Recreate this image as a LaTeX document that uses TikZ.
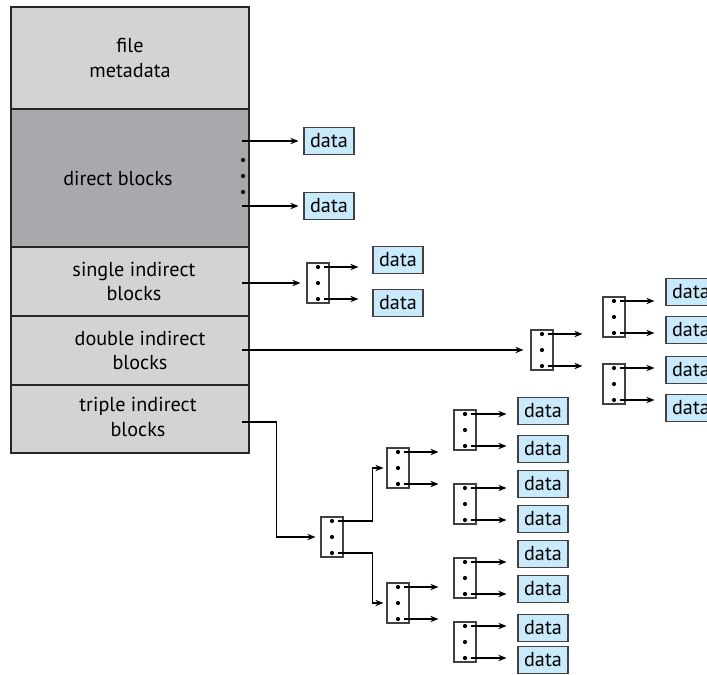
\documentclass[tikz,border=0pt]{standalone}
\usepackage{fontspec}
\setmainfont{PT Sans}
\usetikzlibrary{positioning, arrows.meta}
\definecolor{metagray}{HTML}{D1D3D4}
\definecolor{directgray}{HTML}{A7A9AC}
\definecolor{datablue}{HTML}{C8EAFA}
\definecolor{edgegray}{HTML}{414042}
\tikzstyle{cell} = [
    rectangle,
    draw=black!85,
    line width=0.8pt,
    outer sep=0pt,
    minimum width=4.76cm
]
\tikzstyle{lightcell} = [cell, fill=metagray]
\tikzstyle{darkcell} = [cell, fill=directgray]
\tikzstyle{celltext} = [
    align=center,
    font=\fontsize{11.5}{14.2}\selectfont
]
\tikzstyle{datablock} = [
    rectangle,
    draw=edgegray,
    line width=0.6pt,
    fill=datablue,
    inner sep=0pt,
    minimum width=1cm,
    minimum height=0.54cm,
    font=\fontsize{11.5}{12}\selectfont
]
\tikzstyle{indexblock} = [
    rectangle,
    draw=edgegray,
    line width=0.6pt,
    fill=white,
    inner sep=0pt,
    minimum width=0.44cm,
    minimum height=0.8cm,
    path picture={
        \fill [black] ([yshift=0.32cm]path picture bounding box.center) circle (0.042cm);
        \fill [black] (path picture bounding box.center) circle (0.042cm);
        \fill [black] ([yshift=-0.32cm]path picture bounding box.center) circle (0.042cm);
    }
]
\tikzstyle{arrow} = [line width=0.8pt,->,>={Stealth[length=4.6pt,width=3.6pt]}]

\begin{document}
\begin{tikzpicture}[x=0.02cm, y=-0.02cm]
\useasboundingbox (0,0) rectangle (707,674);
\clip (0,0) rectangle (707,674);

% inode column
\node (meta) [lightcell, minimum height=2.04cm] at (130,58) {};
\node (direct) [darkcell, minimum height=2.76cm, below=0cm of meta] {};
\node (single) [lightcell, minimum height=1.38cm, below=0cm of direct] {};
\node (double) [lightcell, minimum height=1.38cm, below=0cm of single] {};
\node (triple) [lightcell, minimum height=1.36cm, below=0cm of double] {};

\node (metatext) [celltext] at (meta.center) {file\\metadata};
\node (directtext) [celltext] at ([xshift=-0.24cm]direct.center) {direct blocks};
\node (singletext) [celltext] at ([xshift=0.08cm]single.center) {single indirect\\blocks};
\node (doubletext) [celltext] at ([xshift=0.2cm]double.center) {double indirect\\blocks};
\node (tripletext) [celltext] at ([xshift=0.16cm,yshift=0.03cm]triple.center) {triple indirect\\blocks};

\fill (243,160) circle (0.042cm);
\fill (243,176) circle (0.042cm);
\fill (243,192) circle (0.042cm);

% direct
\node (dA) [datablock] at (329,141) {data};
\node (dB) [datablock] at (329,206) {data};

\draw [arrow, shorten >=0.1cm] ([xshift=-0.14cm]direct.east |- dA) -- (dA);
\draw [arrow, shorten >=0.1cm] ([xshift=-0.14cm]direct.east |- dB) -- (dB);

% single indirect
\node (ib1) [indexblock] at (318,283) {};
\node (s1) [datablock] at (398,260) {data};
\node (s2) [datablock] at (398,303) {data};

\draw [arrow, shorten >=0.12cm] ([xshift=-0.14cm]single.east |- ib1) -- (ib1);
\draw [arrow, shorten >=0.28cm] ([xshift=0.12cm,yshift=0.32cm]ib1.center) -- ([yshift=0.32cm]ib1.center -| s1.west);
\draw [arrow, shorten >=0.28cm] ([xshift=0.12cm,yshift=-0.32cm]ib1.center) -- ([yshift=-0.32cm]ib1.center -| s2.west);

% double indirect
\node (ib2) [indexblock] at (542,350) {};
\node (ib3) [indexblock] at (614,317) {};
\node (ib4) [indexblock] at (614,384) {};
\node (r1) [datablock] at (691,292) {data};
\node (r2) [datablock] at (691,330) {data};
\node (r3) [datablock] at (691,370) {data};
\node (r4) [datablock] at (691,408) {data};

\draw [arrow, shorten >=0.14cm] ([xshift=-0.14cm]double.east |- ib2) -- (ib2);
\draw [arrow, shorten >=0.4cm] ([xshift=0.12cm,yshift=0.32cm]ib2.center) -- ([yshift=0.32cm]ib2.center -| ib3.west);
\draw [arrow, shorten >=0.4cm] ([xshift=0.12cm,yshift=-0.32cm]ib2.center) -- ([yshift=-0.32cm]ib2.center -| ib4.west);
\draw [arrow, shorten >=0.22cm] ([xshift=0.12cm,yshift=0.32cm]ib3.center) -- ([yshift=0.32cm]ib3.center -| r1.west);
\draw [arrow, shorten >=0.22cm] ([xshift=0.12cm,yshift=-0.32cm]ib3.center) -- ([yshift=-0.32cm]ib3.center -| r2.west);
\draw [arrow, shorten >=0.22cm] ([xshift=0.12cm,yshift=0.32cm]ib4.center) -- ([yshift=0.32cm]ib4.center -| r3.west);
\draw [arrow, shorten >=0.22cm] ([xshift=0.12cm,yshift=-0.32cm]ib4.center) -- ([yshift=-0.32cm]ib4.center -| r4.west);

% triple indirect
\node (ib5) [indexblock] at (332,537) {};
\node (ib6) [indexblock] at (398,468) {};
\node (ib7) [indexblock] at (398,603) {};
\node (ib8) [indexblock] at (465,430) {};
\node (ib9) [indexblock] at (465,504) {};
\node (ib10) [indexblock] at (465,578) {};
\node (ib11) [indexblock] at (465,642) {};
\node (b1) [datablock] at (543,411) {data};
\node (b2) [datablock] at (543,449) {data};
\node (b3) [datablock] at (543,484) {data};
\node (b4) [datablock] at (543,519) {data};
\node (b5) [datablock] at (543,554) {data};
\node (b6) [datablock] at (543,589) {data};
\node (b7) [datablock] at (543,628) {data};
\node (b8) [datablock] at (543,660) {data};

\draw [arrow, shorten >=0.1cm] ([xshift=-0.14cm,yshift=-0.06cm]triple.east) -| ([xshift=-0.88cm]ib5.west) -- (ib5.west);
\draw [arrow, shorten >=0.06cm] ([xshift=0.12cm,yshift=0.32cm]ib5.center) -| ([xshift=-0.28cm]ib6.west) -- (ib6.west);
\draw [arrow, shorten >=0.06cm] ([xshift=0.12cm,yshift=-0.32cm]ib5.center) -| ([xshift=-0.28cm]ib7.west) -- (ib7.west);

\draw [arrow, shorten >=0.3cm] ([xshift=0.12cm,yshift=0.32cm]ib6.center) -- ([yshift=0.32cm]ib6.center -| ib8.west);
\draw [arrow, shorten >=0.3cm] ([xshift=0.12cm,yshift=-0.32cm]ib6.center) -- ([yshift=-0.32cm]ib6.center -| ib9.west);
\draw [arrow, shorten >=0.3cm] ([xshift=0.12cm,yshift=0.32cm]ib7.center) -- ([yshift=0.32cm]ib7.center -| ib10.west);
\draw [arrow, shorten >=0.3cm] ([xshift=0.12cm,yshift=-0.32cm]ib7.center) -- ([yshift=-0.32cm]ib7.center -| ib11.west);

\draw [arrow, shorten >=0.22cm] ([xshift=0.12cm,yshift=0.32cm]ib8.center) -- ([yshift=0.32cm]ib8.center -| b1.west);
\draw [arrow, shorten >=0.22cm] ([xshift=0.12cm,yshift=-0.32cm]ib8.center) -- ([yshift=-0.32cm]ib8.center -| b2.west);
\draw [arrow, shorten >=0.22cm] ([xshift=0.12cm,yshift=0.32cm]ib9.center) -- ([yshift=0.32cm]ib9.center -| b3.west);
\draw [arrow, shorten >=0.22cm] ([xshift=0.12cm,yshift=-0.32cm]ib9.center) -- ([yshift=-0.32cm]ib9.center -| b4.west);
\draw [arrow, shorten >=0.22cm] ([xshift=0.12cm,yshift=0.32cm]ib10.center) -- ([yshift=0.32cm]ib10.center -| b5.west);
\draw [arrow, shorten >=0.22cm] ([xshift=0.12cm,yshift=-0.32cm]ib10.center) -- ([yshift=-0.32cm]ib10.center -| b6.west);
\draw [arrow, shorten >=0.22cm] ([xshift=0.12cm,yshift=0.32cm]ib11.center) -- ([yshift=0.32cm]ib11.center -| b7.west);
\draw [arrow, shorten >=0.22cm] ([xshift=0.12cm,yshift=-0.32cm]ib11.center) -- ([yshift=-0.32cm]ib11.center -| b8.west);

\end{tikzpicture}
\end{document}
